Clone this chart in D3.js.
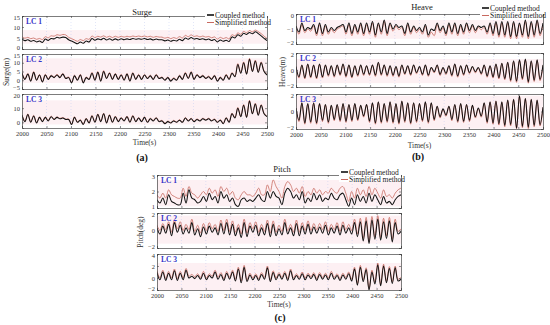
<!DOCTYPE html>
<html><head><meta charset="utf-8">
<script src="https://cdn.jsdelivr.net/npm/d3@7"></script>
<style>body{margin:0;background:#fff}svg text{font-family:"Liberation Serif","Times New Roman",serif}</style>
</head><body><svg id="c" width="550" height="325"></svg>
<script>
// ---------- DATA (85 samples spanning t = 2000..2500 s) ----------
const times = d3.range(85).map(k => 2000 + k * 500 / 84);
const xTicks = [2000,2050,2100,2150,2200,2250,2300,2350,2400,2450,2500];
const lcLabels = ["LC 1","LC 2","LC 3"];
const seriesNames = ["Coupled method","Simplified method"];

const surgeLC1Coupled = [4.5,3.8,4.2,3.5,3.9,3.2,3.6,3.0, 4.5,3.9,4.8,4.6,5.3,5.0,5.4,5.2, 4.2,3.6,3.0,2.4,3.2,2.6,3.6,3.2, 4.8,4.0,4.6,4.2,4.9,4.1,4.7,4.0, 4.6,4.1,4.7,4.2,4.6,4.3,4.8,4.4, 4.7,4.4,4.8,4.3,4.6,4.1,4.5,4.2, 4.2,3.7,4.1,3.5,4.0,3.6,4.4,3.8, 5.0,4.4,5.2,4.5,4.8,4.3,4.7,4.2, 4.5,3.9,4.3,3.2,4.1,3.5,4.0,3.4,5.5,5.0, 6.5,5.8,7.2,6.6,7.5,6.9,7.8,7.0,6.0,4.8, 3.8];
const surgeLC1Simplified = [5.6,4.9,5.3,4.7,5.0,4.4,4.8,4.3, 5.6,5.1,6.0,5.8,6.5,6.2,6.6,6.4, 5.3,4.7,4.1,3.5,4.3,3.8,4.7,4.4, 5.9,5.2,5.8,5.4,6.0,5.3,5.8,5.2, 5.8,5.3,5.8,5.4,5.8,5.5,5.9,5.6, 5.9,5.6,5.9,5.5,5.8,5.3,5.7,5.4, 5.4,4.9,5.3,4.7,5.2,4.8,5.6,5.0, 6.2,5.6,6.4,5.7,6.0,5.5,5.9,5.4, 5.7,5.1,5.5,4.5,5.3,4.7,5.2,4.6,6.5,6.0, 7.3,6.7,8.0,7.4,8.4,7.8,8.6,7.9,7.0,5.8, 4.8];
const surgeLC2Coupled = [4.0,0.5,3.5,-0.5,4.5,0.0,3.0,-1.0, 3.0,0.5,2.5,1.5,3.0,1.5,3.5,1.0, 1.5,-1.5,2.5,0.0,3.0,-1.5,1.5,0.5, 4.0,0.0,4.5,-0.5,5.0,1.0,4.0,0.5, 3.5,0.5,3.0,0.0,3.5,-0.5,4.0,0.5, 3.0,0.5,3.0,1.0,2.5,0.5,3.0,1.0, 1.5,0.0,1.5,-0.5,1.0,0.0,2.5,0.5, 4.0,1.0,4.5,0.5,3.0,1.5,2.5,1.0, 2.0,0.5,2.5,-0.5,1.5,0.0,3.0,0.5,4.0,2.0, 9.0,4.0,10.0,3.5,12.0,5.0,11.0,4.5,10.0,5.0, 3.0];
const surgeLC2Simplified = [4.4,0.7,3.9,-0.3,4.9,0.2,3.3,-0.8, 3.4,0.8,2.9,1.8,3.4,1.8,3.9,1.3, 1.9,-1.2,2.9,0.3,3.4,-1.2,1.9,0.8, 4.5,0.3,5.0,-0.2,5.5,1.3,4.4,0.8, 3.9,0.8,3.4,0.3,3.9,-0.2,4.4,0.8, 3.4,0.8,3.4,1.3,2.9,0.8,3.4,1.3, 1.9,0.3,1.9,-0.2,1.4,0.3,2.9,0.8, 4.5,1.3,5.0,0.8,3.4,1.8,2.9,1.3, 2.4,0.8,2.9,-0.2,1.9,0.3,3.4,0.8,4.4,2.3, 9.5,4.3,10.5,3.8,12.5,5.3,11.5,4.8,10.5,5.3, 3.3];
const surgeLC3Coupled = [5.0,0.5,5.5,0.0,4.5,-0.5,3.5,0.5, 3.5,1.0,4.0,2.0,3.5,2.5,3.0,2.0, 2.0,-1.5,3.5,0.0,1.5,-1.5,2.5,-0.5, 4.5,0.0,5.5,0.5,6.0,-0.5,5.0,0.0, 4.0,0.5,3.0,1.0,4.0,0.0,4.5,0.5, 3.0,0.5,3.5,0.0,2.5,1.0,3.0,0.5, 1.0,-1.0,0.5,-0.5,1.0,0.0,1.5,0.0, 3.0,1.0,2.5,0.5,2.0,1.0,2.5,1.5, 2.5,1.0,2.0,0.0,1.5,-1.0,3.0,0.0,6.0,3.0, 10.0,4.0,12.0,3.5,15.0,6.0,13.0,5.0,12.0,6.0, 4.0];
const surgeLC3Simplified = [5.4,0.8,5.9,0.3,4.9,-0.2,3.9,0.8, 3.9,1.3,4.4,2.3,3.9,2.8,3.4,2.3, 2.4,-1.2,3.9,0.3,1.9,-1.2,2.9,-0.2, 4.9,0.3,5.9,0.8,6.4,-0.2,5.4,0.3, 4.4,0.8,3.4,1.3,4.4,0.3,4.9,0.8, 3.4,0.8,3.9,0.3,2.9,1.3,3.4,0.8, 1.4,-0.7,0.9,-0.2,1.4,0.3,1.9,0.3, 3.4,1.3,2.9,0.8,2.4,1.3,2.9,1.8, 2.9,1.3,2.4,0.3,1.9,-0.7,3.4,0.3,6.5,3.3, 10.5,4.3,12.5,3.8,15.5,6.3,13.5,5.3,12.5,6.3, 4.3];

const heaveLC1Coupled = [-0.8,-1.2,-0.6,-1.1,-0.9,-1.0,-0.7,-1.3, -0.6,-1.3,-0.7,-1.2,-0.9,-1.1,-0.9,-0.8, -0.7,-1.2,-0.6,-1.3,-0.7,-1.2,-0.6,-1.3, -0.6,-1.2,-0.5,-1.4,-0.6,-1.2,-0.4,-1.3, -0.6,-1.0,-0.7,-0.9,-0.8,-1.3,-0.6,-1.2, -0.8,-1.1,-0.9,-1.2,-0.7,-1.4,-1.0,-1.1, -0.6,-1.1,-0.8,-1.3,-0.6,-1.2,-0.6,-1.3, -0.7,-1.2,-0.6,-1.1,-0.7,-1.1,-0.8,-0.9, -0.8,-1.2,-0.6,-1.3,-0.5,-1.4,-0.5,-1.4,-0.5,-1.5, -0.5,-1.5,-0.6,-1.4,-0.4,-1.5,-0.5,-1.4,-0.4,-1.3, -0.6];
const heaveLC1Simplified = [-0.85,-1.35,-0.7,-1.25,-1.0,-1.15,-0.8,-1.45, -0.7,-1.45,-0.8,-1.35,-1.0,-1.25,-1.0,-0.9, -0.8,-1.35,-0.7,-1.45,-0.8,-1.35,-0.7,-1.45, -0.7,-1.35,-0.6,-1.55,-0.7,-1.35,-0.5,-1.45, -0.7,-1.15,-0.8,-1.05,-0.9,-1.45,-0.7,-1.35, -0.9,-1.25,-1.0,-1.35,-0.8,-1.55,-1.2,-1.45, -0.7,-1.25,-0.9,-1.45,-0.7,-1.35,-0.7,-1.45, -0.8,-1.35,-0.7,-1.25,-0.8,-1.25,-0.9,-1.05, -0.9,-1.35,-0.7,-1.45,-0.6,-1.55,-0.6,-1.55,-0.6,-1.65, -0.6,-1.65,-0.7,-1.55,-0.5,-1.65,-0.6,-1.55,-0.5,-1.45, -0.7];
const heaveLC2Coupled = [0.4,-0.8,0.6,-0.9,0.7,-0.8,0.6,-0.9, 0.7,-0.8,0.6,-0.6,0.5,-0.7,0.6,-0.5, 0.7,-0.7,0.6,-0.8,0.5,-0.6,0.6,-0.5, 0.5,-0.5,0.6,-0.6,0.9,-0.5,0.6,-0.6, 0.5,-0.6,0.4,-0.7,0.6,-0.4,0.5,-0.5, 0.6,-0.3,0.4,-0.5,0.6,-0.6,0.3,-0.2, 0.6,-0.5,0.3,-0.4,0.5,-0.6,0.7,-0.7, 0.5,-0.5,0.6,-0.3,0.4,-0.2,0.3,-0.4, 0.6,-0.7,0.5,-0.8,0.7,-0.9,0.8,-1.0,0.9,-1.2, 1.1,-1.3,1.2,-1.0,1.3,-1.4,1.1,-1.2,1.2,-1.1, 0.6];
const heaveLC2Simplified = [0.35,-0.95,0.55,-1.05,0.65,-0.95,0.55,-1.05, 0.65,-0.95,0.55,-0.75,0.45,-0.85,0.55,-0.65, 0.65,-0.85,0.55,-0.95,0.45,-0.75,0.55,-0.65, 0.45,-0.65,0.55,-0.75,0.8,-0.65,0.55,-0.75, 0.45,-0.75,0.35,-0.85,0.55,-0.55,0.45,-0.65, 0.55,-0.45,0.35,-0.65,0.55,-0.75,0.25,-0.35, 0.55,-0.65,0.25,-0.55,0.45,-0.75,0.65,-0.85, 0.45,-0.65,0.55,-0.45,0.35,-0.35,0.25,-0.55, 0.55,-0.85,0.45,-0.95,0.65,-1.05,0.75,-1.15,0.85,-1.35, 1.0,-1.45,1.1,-1.15,1.2,-1.55,1.0,-1.35,1.1,-1.25, 0.5];
const heaveLC3Coupled = [0.4,-1.0,1.0,-1.3,0.9,-1.2,1.0,-1.3, 0.9,-1.0,0.8,-1.2,0.7,-0.9,0.8,-1.0, 0.9,-1.1,0.8,-1.0,0.9,-0.9,0.7,-0.5, 0.8,-1.1,1.0,-1.3,1.1,-1.2,0.9,-1.1, 1.1,-1.2,0.9,-1.3,1.2,-1.1,1.0,-1.3, 1.0,-1.1,0.9,-1.0,1.1,-1.2,1.0,-0.9, 0.6,-0.6,0.3,-0.4,0.6,-0.9,0.8,-1.1, 0.9,-1.1,0.8,-1.0,0.7,-0.6,0.4,-0.5, 1.0,-1.2,1.1,-1.3,1.2,-1.4,1.1,-1.6,1.3,-1.5, 1.4,-1.9,1.8,-1.7,1.5,-1.8,1.4,-1.6,1.3,-1.5, 0.5];
const heaveLC3Simplified = [0.35,-1.15,0.95,-1.45,0.85,-1.35,0.95,-1.45, 0.85,-1.15,0.75,-1.35,0.65,-1.05,0.75,-1.15, 0.85,-1.25,0.75,-1.15,0.85,-1.05,0.65,-0.65, 0.75,-1.25,0.95,-1.45,1.05,-1.35,0.85,-1.25, 1.05,-1.35,0.85,-1.45,1.15,-1.25,0.95,-1.45, 0.95,-1.25,0.85,-1.15,1.05,-1.35,0.95,-1.05, 0.55,-0.75,0.25,-0.55,0.55,-1.05,0.75,-1.25, 0.85,-1.25,0.75,-1.15,0.65,-0.75,0.35,-0.65, 0.95,-1.35,1.05,-1.45,1.15,-1.55,1.05,-1.75,1.25,-1.65, 1.35,-1.95,1.75,-1.85,1.45,-1.95,1.35,-1.75,1.25,-1.65, 0.45];

const pitchLC1Coupled = [1.5,1.3,1.6,1.2,1.8,1.4,1.3,1.2, 1.2,1.9,1.3,2.1,1.6,1.5,1.3,1.4, 1.7,1.4,1.9,1.5,1.7,1.3,2.0,1.6, 1.8,1.4,1.6,1.2,1.1,1.5,1.6,1.4, 1.5,1.4,1.6,1.8,1.5,1.4,2.0,1.6, 2.0,1.7,1.6,1.2,1.9,2.2,2.0,1.6, 1.8,1.5,2.0,1.3,1.6,1.4,1.9,1.5, 1.8,1.4,1.6,1.5,1.9,1.6,1.5,1.8, 1.9,1.5,1.1,1.6,1.2,1.8,1.4,1.7,1.3,1.9, 1.4,1.8,1.5,1.2,1.7,1.3,1.4,1.2,1.5,1.7, 1.8];
const pitchLC1Simplified = [1.8,1.6,1.9,1.6,2.1,1.8,1.7,1.6, 1.6,2.2,1.7,2.3,1.9,1.8,1.6,1.8, 2.0,1.8,2.2,1.9,2.1,1.7,2.3,2.0, 2.2,1.8,2.0,1.6,1.5,1.8,2.0,1.8, 1.8,1.7,1.9,2.2,1.8,1.8,2.4,2.0, 2.7,2.3,2.0,1.6,2.3,2.6,2.4,2.0, 2.2,1.9,2.3,1.7,2.0,1.8,2.2,1.9, 2.1,1.8,2.0,1.9,2.2,2.0,1.9,2.2, 2.3,1.9,1.4,2.0,1.6,2.2,1.8,2.1,1.7,2.3, 1.8,2.2,1.9,1.6,2.1,1.7,1.8,1.6,1.9,2.1, 2.2];
const pitchLC2Coupled = [0.3,-0.4,0.5,-0.3,0.7,-0.6,0.9,-0.2, 0.6,-0.4,0.3,-0.3,0.9,-0.5,0.2,-0.7, 0.4,-0.4,0.5,-0.2,0.3,-0.5,0.8,-0.4, 0.9,-0.5,0.7,-0.6,0.3,-0.8,0.9,-0.7, 0.5,-0.2,0.6,-0.6,0.3,-0.5,0.8,-0.7, 0.7,-0.6,0.2,-0.5,0.9,-0.4,0.3,-0.6, 0.8,-0.6,0.5,-0.4,0.7,-0.4,0.4,-0.3, 0.4,-0.3,0.6,-0.5,0.3,-0.3,0.5,-0.5, 0.6,-0.3,0.3,-0.4,0.9,-0.7,1.0,-1.2,1.1,-1.5, 1.2,-1.0,1.3,-1.1,1.0,-0.9,1.1,-1.3,0.9,-0.4, -0.1];
const pitchLC2Simplified = [0.6,0.0,0.8,0.1,1.0,-0.2,1.2,0.2, 1.0,0.0,0.7,0.1,1.3,-0.1,0.6,-0.3, 0.8,0.0,0.9,0.2,0.7,-0.1,1.2,0.0, 1.3,-0.1,1.1,-0.2,0.7,-0.4,1.3,-0.3, 0.9,0.2,1.0,-0.2,0.7,-0.1,1.2,-0.3, 1.1,-0.2,0.6,-0.1,1.3,0.0,0.7,-0.2, 1.2,-0.2,0.9,0.0,1.1,0.0,0.8,0.1, 0.8,0.1,1.0,-0.1,0.7,0.1,0.9,-0.1, 1.0,0.1,0.7,0.0,1.3,-0.4,1.4,-0.9,1.5,-1.2, 1.6,-0.7,1.7,-0.8,1.4,-0.6,1.5,-1.0,1.3,-0.1, 0.2];
const pitchLC3Coupled = [0.9,-0.3,1.0,-0.4,0.8,-0.3,1.2,-0.4, 0.8,-0.3,1.3,0.0,0.3,-0.1,0.4,-0.2, 0.8,-0.3,0.4,0.0,1.0,-0.2,0.6,-0.4, 0.8,-0.2,1.0,-0.5,1.5,-0.8,1.8,-0.6, 0.5,-0.3,0.4,-0.4,0.6,-0.2,1.7,-0.6, 0.9,-0.3,0.6,-0.2,0.8,-0.4,1.2,-0.3, 0.4,-0.2,0.7,-0.3,0.5,-0.1,0.6,-0.4, 0.6,-0.2,0.5,-0.3,0.8,-0.2,0.4,-0.4, 0.5,-0.2,0.7,-0.5,1.5,-1.2,1.8,-0.6,1.4,-2.0, 1.0,-1.0,2.2,-1.3,2.0,-0.8,1.6,-0.9,1.7,-0.5, -0.2];
const pitchLC3Simplified = [1.2,0.0,1.3,-0.1,1.1,0.0,1.5,-0.1, 1.1,0.0,1.6,0.3,0.6,0.2,0.7,0.1, 1.1,0.0,0.7,0.3,1.3,0.1,0.9,-0.1, 1.1,0.1,1.3,-0.2,1.8,-0.5,2.1,-0.3, 0.8,0.0,0.7,-0.1,0.9,0.1,2.0,-0.3, 1.2,0.0,0.9,0.1,1.1,-0.1,1.5,0.0, 0.7,0.1,1.0,0.0,0.8,0.2,0.9,-0.1, 0.9,0.1,0.8,0.0,1.1,0.1,0.7,-0.1, 0.8,0.1,1.0,-0.2,1.8,-0.9,2.1,-0.3,1.7,-1.7, 1.3,-0.7,2.5,-1.0,2.3,-0.5,1.9,-0.6,2.0,-0.2, 0.1];

const surgeDomains = [[0,15],[-5,15],[-4,20]];
const surgeTicks = [[0,5,10,15],[-5,0,5,10,15],[0,10,20]];
const heaveDomains = [[-2,0],[-2,2],[-2,2]];
const heaveTicks = [[-2,-1,0],[-2,0,2],[-2,0,2]];
const pitchDomains = [[1,3],[-2,2],[-2,4]];
const pitchTicks = [[1,2,3],[-2,0,2],[-2,0,2,4]];

// ---------- LAYOUT ----------
const panels = [
  {title:"Surge", tag:"(a)", ylabel:"Surge(m)", x0:22, x1:267, rows:[[16,49],[54,89],[94,128]],
   titleXY:[142,15], tagXY:[142,161], ylabXY:[9,72], timeY:145, legXY:[207,15],
   domains:surgeDomains, ticks:surgeTicks,
   data:[[surgeLC1Coupled,surgeLC1Simplified],[surgeLC2Coupled,surgeLC2Simplified],[surgeLC3Coupled,surgeLC3Simplified]]},
  {title:"Heave", tag:"(b)", ylabel:"Heave(m)", x0:296, x1:543, rows:[[14,44],[53,87],[94,129]],
   titleXY:[422,10], tagXY:[418,160], ylabXY:[285,72], timeY:148, legXY:[482,8],
   domains:heaveDomains, ticks:heaveTicks,
   data:[[heaveLC1Coupled,heaveLC1Simplified],[heaveLC2Coupled,heaveLC2Simplified],[heaveLC3Coupled,heaveLC3Simplified]]},
  {title:"Pitch", tag:"(c)", ylabel:"Pitch(deg)", x0:157, x1:401, rows:[[175,208],[213,248],[254,290]],
   titleXY:[282,172], tagXY:[280,321], ylabXY:[143,232], timeY:307, legXY:[341,172],
   domains:pitchDomains, ticks:pitchTicks,
   data:[[pitchLC1Coupled,pitchLC1Simplified],[pitchLC2Coupled,pitchLC2Simplified],[pitchLC3Coupled,pitchLC3Simplified]]}
];

const svg = d3.select("#c");
const colC = "#111", colS = "#c8695f";

panels.forEach(p => {
  const g = svg.append("g");
  const x = d3.scaleLinear().domain([2000,2500]).range([p.x0,p.x1]);
  p.rows.forEach((r,i) => {
    const y = d3.scaleLinear().domain(p.domains[i]).range([r[1],r[0]]);
    const [coupled, simplified] = p.data[i];
    const ext = d3.extent(coupled.concat(simplified));
    const top = Math.max(r[0], y(ext[1])), bot = Math.min(r[1], y(ext[0]));
    g.append("rect").attr("x",p.x0).attr("width",p.x1-p.x0).attr("y",top).attr("height",bot-top)
      .attr("fill","#fdf0f3");
    g.append("g").selectAll("line").data(xTicks.slice(1,-1)).join("line")
      .attr("x1",d=>x(d)).attr("x2",d=>x(d)).attr("y1",r[0]).attr("y2",r[1])
      .attr("stroke","#c2cdf0").attr("stroke-width",0.5).attr("stroke-dasharray","1,2");
    const line = d3.line().x((d,k)=>x(times[k])).y(d=>y(d)).curve(d3.curveCatmullRom);
    const clipId = "clip"+p.title+i;
    g.append("clipPath").attr("id",clipId).append("rect")
      .attr("x",p.x0).attr("y",r[0]).attr("width",p.x1-p.x0).attr("height",r[1]-r[0]);
    const lg = g.append("g").attr("clip-path",`url(#${clipId})`);
    lg.append("path").attr("d",line(simplified)).attr("fill","none").attr("stroke",colS).attr("stroke-width",0.8);
    lg.append("path").attr("d",line(coupled)).attr("fill","none").attr("stroke",colC).attr("stroke-width",1.05);
    const dom = p.domains[i];
    const yl = d3.axisLeft(y).tickValues(p.ticks[i]).tickSize(-2).tickPadding(2).tickFormat(d3.format("d"));
    const yr = d3.axisRight(y).tickValues(p.ticks[i]).tickSize(-2).tickFormat("");
    const xb = d3.axisBottom(x).tickValues(xTicks).tickSize(-2).tickPadding(3).tickFormat(i===2? d3.format("d") : "");
    const xt = d3.axisTop(x).tickValues(xTicks).tickSize(-2).tickFormat("");
    [[yl,`translate(${p.x0},0)`,true],[yr,`translate(${p.x1},0)`],[xb,`translate(0,${r[1]})`],[xt,`translate(0,${r[0]})`]].forEach(([ax,tr,isY])=>{
      const a = g.append("g").attr("transform",tr).call(ax);
      a.select(".domain").attr("stroke","#444").attr("stroke-width",0.7);
      a.selectAll(".tick line").attr("stroke","#444").attr("stroke-width",0.6);
      a.selectAll("text").attr("font-size",6.5).attr("fill","#333").attr("font-family","Liberation Serif");
      if (isY) {
        a.selectAll(".tick text").attr("transform", d => d===dom[1] ? "translate(0,1.5)" : d===dom[0] ? "translate(0,-1.5)" : null);
      }
    });
    g.append("text").attr("x",p.x0+4).attr("y",r[0]+8).text(lcLabels[i])
      .attr("font-size",7.5).attr("fill","#3434c8").attr("font-weight","bold");
  });
  g.append("text").attr("x",p.titleXY[0]).attr("y",p.titleXY[1]).attr("text-anchor","middle")
    .attr("font-size",8.5).attr("fill","#222").text(p.title);
  g.append("text").attr("x",(p.x0+p.x1)/2).attr("y",p.timeY).attr("text-anchor","middle")
    .attr("font-size",7.5).attr("fill","#333").text("Time(s)");
  g.append("text").attr("transform",`translate(${p.ylabXY[0]},${p.ylabXY[1]}) rotate(-90)`)
    .attr("text-anchor","middle").attr("font-size",7.5).attr("fill","#333").text(p.ylabel);
  g.append("text").attr("x",p.tagXY[0]).attr("y",p.tagXY[1]).attr("text-anchor","middle")
    .attr("font-size",10).attr("font-weight","bold").attr("fill","#111").text(p.tag);
  const lx = p.legXY[0], ly = p.legXY[1];
  g.append("rect").attr("x",lx-2).attr("y",ly-5).attr("width",p.x1-lx+2).attr("height",15).attr("fill","#fff");
  seriesNames.forEach((n,k)=>{
    const yy = ly + k*7.5;
    g.append("line").attr("x1",lx).attr("x2",lx+7).attr("y1",yy).attr("y2",yy)
      .attr("stroke",k===0?colC:colS).attr("stroke-width",k===0?1.6:1);
    g.append("text").attr("x",lx+8).attr("y",yy+2.5).attr("font-size",7.5).attr("fill","#222").text(n);
  });
});
</script></body></html>
